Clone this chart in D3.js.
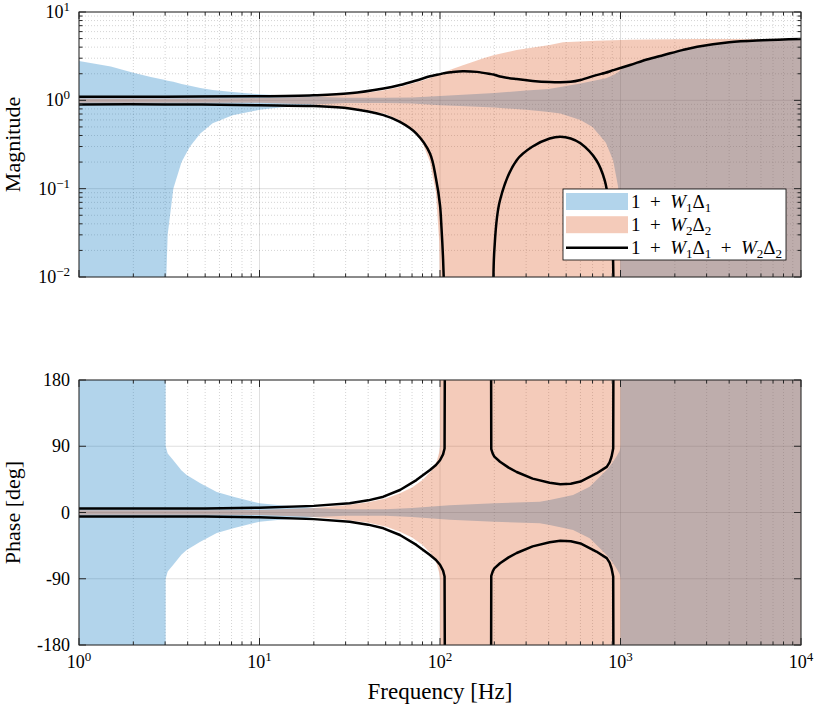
<!DOCTYPE html>
<html>
<head>
<meta charset="utf-8">
<script src="https://d3js.org/d3.v7.min.js"></script>
<style>
  body { margin: 0; background: #fff; }
</style>
</head>
<body>
<script>
// axes
const freqDomain = [1, 1e4];
const magDomain = [1e-2, 1e1];
const phaseDomain = [-180, 180];
const phaseTicks = [-180, -90, 0, 90, 180];
const phaseTickLabels = ["-180", "-90", "0", "90", "180"];

// 1 + W1 Δ1 (blue) : magnitude bounds, 0 = no lower bound
const blueMagFreq = [1, 1.5, 2, 2.5, 3, 3.02, 3.1, 3.33, 3.7, 4.12, 4.7, 5.5, 7.1, 10, 13, 16.8, 20, 30, 50, 70, 100, 150, 200, 300, 400, 464, 600, 700, 830, 910, 970, 995, 1000, 1050, 1130, 1400, 1740, 2200, 2660, 4000, 6130, 10000];
const blueMagHi = [2.78, 2.42, 2.05, 1.84, 1.7, 1.69, 1.67, 1.62, 1.53, 1.46, 1.38, 1.31, 1.24, 1.17, 1.14, 1.12, 1.1, 1.07, 1.07, 1.08, 1.12, 1.17, 1.21, 1.29, 1.34, 1.42, 1.55, 1.65, 1.78, 1.92, 2.08, 2.17, 2.2, 2.4, 2.51, 2.9, 3.26, 3.7, 4.04, 4.54, 4.78, 4.94];
const blueMagLo = [0, 0, 0, 0, 0, 0.006, 0.03, 0.1, 0.2, 0.3, 0.42, 0.55, 0.68, 0.78, 0.83, 0.86, 0.9, 0.93, 0.93, 0.92, 0.88, 0.85, 0.83, 0.78, 0.74, 0.71, 0.6, 0.5, 0.33, 0.21, 0.105, 0.03, 0.006, 0, 0, 0, 0, 0, 0, 0, 0, 0];
// phase half-width in deg (180 = whole circle)
const bluePhFreq = [1, 3.02, 3.02, 3.1, 3.33, 3.7, 3.95, 4.7, 5.8, 7.16, 10, 13, 16.8, 20, 30, 50, 70, 113, 200, 357, 405, 546, 675, 838, 892, 950, 990, 1000, 1000, 10000];
const bluePh = [180, 180, 90, 80, 71, 57, 51, 39.7, 28, 21.5, 12.5, 10, 8, 6, 4.3, 4.5, 6, 10, 12.5, 14.7, 17, 23.8, 35, 57.7, 66, 76, 84, 90, 180, 180];

// 1 + W2 Δ2 (orange)
const orangeMagFreq = [1, 5, 10, 20, 30, 40, 50, 60, 70, 80, 88, 95, 99, 100, 113, 134, 150, 174, 200, 266, 405, 480, 735, 1130, 2660, 10000];
const orangeMagHi = [1.05, 1.05, 1.06, 1.1, 1.16, 1.23, 1.31, 1.42, 1.55, 1.68, 1.79, 1.88, 1.94, 1.97, 2.2, 2.5, 2.7, 2.99, 3.25, 3.71, 4.23, 4.54, 4.73, 4.85, 4.94, 4.97];
const orangeMagLo = [0.94, 0.94, 0.94, 0.9, 0.84, 0.77, 0.7, 0.59, 0.47, 0.33, 0.2, 0.09, 0.025, 0.006, 0, 0, 0, 0, 0, 0, 0, 0, 0, 0, 0, 0];
const orangePhFreq = [1, 5, 10, 20, 30, 40, 50, 60, 70, 80, 90, 96, 99, 100, 100, 10000];
const orangePh = [3, 3, 3.5, 6, 10, 14, 19, 26, 34, 44, 57, 70, 82, 90, 180, 180];

// 1 + W1 Δ1 + W2 Δ2 (black lines), null = not drawn
const blackMagFreq = [1, 3, 10, 20, 31.6, 48.6, 60, 74, 88, 95, 100, 102, 104, 105.6, 115, 134, 160, 192, 197.5, 200, 215, 266, 326, 405, 464, 530, 600, 735, 817, 870, 900, 915, 1130, 1400, 1740, 2200, 2660, 4000, 6130, 10000];
const blackMagHi = [1.1, 1.1, 1.11, 1.14, 1.2, 1.36, 1.49, 1.68, 1.87, 1.94, 1.98, 2.0, 2.02, 2.03, 2.08, 2.14, 2.1, 1.98, 1.96, 1.95, 1.86, 1.74, 1.66, 1.61, 1.6, 1.62, 1.7, 1.93, 2.04, 2.12, 2.18, 2.2, 2.51, 2.9, 3.26, 3.7, 4.04, 4.54, 4.78, 4.94];
const blackMagLo = [0.9, 0.9, 0.88, 0.86, 0.81, 0.68, 0.57, 0.42, 0.25, 0.13, 0.065, 0.035, 0.016, 0.006, null, null, null, null, 0.006, 0.02, 0.074, 0.21, 0.3, 0.37, 0.387, 0.37, 0.326, 0.21, 0.125, 0.06, 0.03, 0.006, null, null, null, null, null, null, null, null];
const blackPhFreq = [1, 5, 10, 20, 31.6, 40, 48.6, 60, 74, 88, 95, 100, 104, 106, 106.3, 150, 192, 192.3, 196, 200, 215, 240, 266, 326, 405, 464, 530, 600, 735, 839, 870, 892, 911, 913, 1000, 10000];
const blackPh = [5.3, 5.5, 6.5, 9, 12.5, 16.5, 21.5, 30.6, 44, 57.7, 64.5, 71, 79, 87, 180, null, 180, 86, 80, 76, 69, 61, 55, 46, 40.5, 38.3, 39, 42, 53, 62, 68, 75.8, 87, 180, null, null];

// legend
const legendLabels = [
  [["1", ""], ["\u2002+\u2002", ""], ["W", "i"], ["1", "s"], ["Δ", ""], ["1", "s"]],
  [["1", ""], ["\u2002+\u2002", ""], ["W", "i"], ["2", "s"], ["Δ", ""], ["2", "s"]],
  [["1", ""], ["\u2002+\u2002", ""], ["W", "i"], ["1", "s"], ["Δ", ""], ["1", "s"], ["\u2002+\u2002", ""], ["W", "i"], ["2", "s"], ["Δ", ""], ["2", "s"]]
];

const blue = "#0072BD", orange = "#D95319", axisCol = "#262626";
const serif = "'Liberation Serif', 'DejaVu Serif', serif";

const svg = d3.select("body").append("svg").attr("width", 821).attr("height", 713)
  .attr("font-family", serif);

const magBox = { x0: 79, x1: 801, y0: 12, y1: 277 };
const phBox = { x0: 79, x1: 801, y0: 380, y1: 645 };

const x = d3.scaleLog().domain(freqDomain).range([magBox.x0, magBox.x1]);
const yMag = d3.scaleLog().domain(magDomain).range([magBox.y1, magBox.y0]);
const yPh = d3.scaleLinear().domain(phaseDomain).range([phBox.y1, phBox.y0]);

const isDecade = (v) => Math.abs(Math.log10(v) - Math.round(Math.log10(v))) < 1e-9;
const xTicks = x.ticks();
const magTicks = yMag.ticks();

// clip paths
const defs = svg.append("defs");
[["clipMag", magBox], ["clipPh", phBox]].forEach(([id, b]) => {
  defs.append("clipPath").attr("id", id).append("rect")
    .attr("x", b.x0).attr("y", b.y0).attr("width", b.x1 - b.x0).attr("height", b.y1 - b.y0);
});

// grid
function drawGrid(b, yVals, yScale, yMajor) {
  const g = svg.append("g");
  xTicks.forEach((t) => {
    const major = isDecade(t);
    g.append("line").attr("x1", x(t)).attr("x2", x(t)).attr("y1", b.y0).attr("y2", b.y1)
      .attr("stroke", axisCol)
      .attr("stroke-opacity", major ? 0.15 : 0.25)
      .attr("stroke-width", major ? 1 : 0.8)
      .attr("stroke-dasharray", major ? null : "1,2");
  });
  yVals.forEach((t) => {
    const major = yMajor(t);
    g.append("line").attr("x1", b.x0).attr("x2", b.x1).attr("y1", yScale(t)).attr("y2", yScale(t))
      .attr("stroke", axisCol)
      .attr("stroke-opacity", major ? 0.15 : 0.25)
      .attr("stroke-width", major ? 1 : 0.8)
      .attr("stroke-dasharray", major ? null : "1,2");
  });
}
drawGrid(magBox, magTicks, yMag, isDecade);
drawGrid(phBox, phaseTicks, yPh, () => true);

// magnitude plot
const magRows = (fr, hi, lo) => fr.map((f, i) => ({ f, hi: hi[i], lo: lo[i] }));
const magArea = d3.area()
  .x((d) => x(d.f))
  .y1((d) => yMag(d.hi))
  .y0((d) => (d.lo > 0 ? yMag(d.lo) : magBox.y1 + 20));

const gMag = svg.append("g").attr("clip-path", "url(#clipMag)");
gMag.append("path").datum(magRows(blueMagFreq, blueMagHi, blueMagLo))
  .attr("d", magArea).attr("fill", blue).attr("fill-opacity", 0.3);
gMag.append("path").datum(magRows(orangeMagFreq, orangeMagHi, orangeMagLo))
  .attr("d", magArea).attr("fill", orange).attr("fill-opacity", 0.3);

const magLine = d3.line().defined((d) => d.v != null).curve(d3.curveCatmullRom.alpha(0.5))
  .x((d) => x(d.f)).y((d) => yMag(d.v));
[blackMagHi, blackMagLo].forEach((vals) => {
  gMag.append("path").datum(blackMagFreq.map((f, i) => ({ f, v: vals[i] })))
    .attr("d", magLine).attr("fill", "none").attr("stroke", "#000")
    .attr("stroke-width", 2.5).attr("stroke-linejoin", "round");
});

// phase plot
const phRows = (fr, p) => fr.map((f, i) => ({ f, p: p[i] }));
const phArea = d3.area()
  .x((d) => x(d.f))
  .y1((d) => yPh(d.p))
  .y0((d) => yPh(-d.p));

const gPh = svg.append("g").attr("clip-path", "url(#clipPh)");
gPh.append("path").datum(phRows(bluePhFreq, bluePh))
  .attr("d", phArea).attr("fill", blue).attr("fill-opacity", 0.3);
gPh.append("path").datum(phRows(orangePhFreq, orangePh))
  .attr("d", phArea).attr("fill", orange).attr("fill-opacity", 0.3);

const phLine = d3.line().defined((d) => d.v != null)
  .x((d) => x(d.f)).y((d) => yPh(d.v));
[1, -1].forEach((s) => {
  gPh.append("path").datum(blackPhFreq.map((f, i) => ({ f, v: blackPh[i] == null ? null : s * blackPh[i] })))
    .attr("d", phLine).attr("fill", "none").attr("stroke", "#000")
    .attr("stroke-width", 2.5).attr("stroke-linejoin", "round");
});

// box and ticks
function drawBox(b, yVals, yScale, yMajor) {
  const g = svg.append("g").attr("stroke", axisCol).attr("stroke-width", 1);
  g.append("rect").attr("x", b.x0).attr("y", b.y0).attr("width", b.x1 - b.x0).attr("height", b.y1 - b.y0)
    .attr("fill", "none");
  xTicks.forEach((t) => {
    const len = isDecade(t) ? 7 : 3.5;
    g.append("line").attr("x1", x(t)).attr("x2", x(t)).attr("y1", b.y1).attr("y2", b.y1 - len);
    g.append("line").attr("x1", x(t)).attr("x2", x(t)).attr("y1", b.y0).attr("y2", b.y0 + len);
  });
  yVals.forEach((t) => {
    const len = yMajor(t) ? 7 : 3.5;
    g.append("line").attr("x1", b.x0).attr("x2", b.x0 + len).attr("y1", yScale(t)).attr("y2", yScale(t));
    g.append("line").attr("x1", b.x1).attr("x2", b.x1 - len).attr("y1", yScale(t)).attr("y2", yScale(t));
  });
}
drawBox(magBox, magTicks, yMag, isDecade);
drawBox(phBox, phaseTicks, yPh, () => true);

// tick labels
function powLabel(t, exp) {
  t.append("tspan").text("10");
  t.append("tspan").attr("dy", -7).attr("font-size", 13).text(exp < 0 ? "\u2212" + -exp : exp);
}
magTicks.filter(isDecade).forEach((v) => {
  const t = svg.append("text").attr("x", 70).attr("y", yMag(v) + 6)
    .attr("text-anchor", "end").attr("font-size", 18);
  powLabel(t, Math.round(Math.log10(v)));
});
xTicks.filter(isDecade).forEach((v) => {
  const t = svg.append("text").attr("x", x(v)).attr("y", 668)
    .attr("text-anchor", "middle").attr("font-size", 18);
  powLabel(t, Math.round(Math.log10(v)));
});
phaseTicks.forEach((v, i) => {
  svg.append("text").attr("x", 70).attr("y", yPh(v) + 6)
    .attr("text-anchor", "end").attr("font-size", 18).text(phaseTickLabels[i]);
});

// axis labels
svg.append("text").attr("transform", `translate(20,${(magBox.y0 + magBox.y1) / 2}) rotate(-90)`)
  .attr("text-anchor", "middle").attr("font-size", 22).text("Magnitude");
svg.append("text").attr("transform", `translate(20,${(phBox.y0 + phBox.y1) / 2}) rotate(-90)`)
  .attr("text-anchor", "middle").attr("font-size", 22).text("Phase [deg]");
svg.append("text").attr("x", (phBox.x0 + phBox.x1) / 2).attr("y", 699)
  .attr("text-anchor", "middle").attr("font-size", 23).text("Frequency [Hz]");

// legend
const leg = svg.append("g");
leg.append("rect").attr("x", 563).attr("y", 189).attr("width", 223).attr("height", 71)
  .attr("fill", "#fff").attr("stroke", "#000").attr("stroke-width", 0.8);
const rowY = [201.5, 224.7, 247.8];
leg.append("rect").attr("x", 566).attr("y", rowY[0] - 8.5).attr("width", 62).attr("height", 17)
  .attr("fill", blue).attr("fill-opacity", 0.3);
leg.append("rect").attr("x", 566).attr("y", rowY[1] - 8.5).attr("width", 62).attr("height", 17)
  .attr("fill", orange).attr("fill-opacity", 0.3);
leg.append("line").attr("x1", 566).attr("x2", 628).attr("y1", rowY[2]).attr("y2", rowY[2])
  .attr("stroke", "#000").attr("stroke-width", 2.5);

legendLabels.forEach((parts, i) => {
  const t = leg.append("text").attr("x", 631).attr("y", rowY[i] + 6.5)
    .attr("font-size", 19).style("white-space", "pre");
  let low = false;
  parts.forEach(([s, kind]) => {
    const sp = t.append("tspan").text(s);
    if (kind === "s") {
      sp.attr("font-size", 13).attr("dy", low ? 0 : 4);
      low = true;
    } else {
      if (low) sp.attr("dy", -4);
      low = false;
      if (kind === "i") sp.attr("font-style", "italic");
    }
  });
});
</script>
</body>
</html>
